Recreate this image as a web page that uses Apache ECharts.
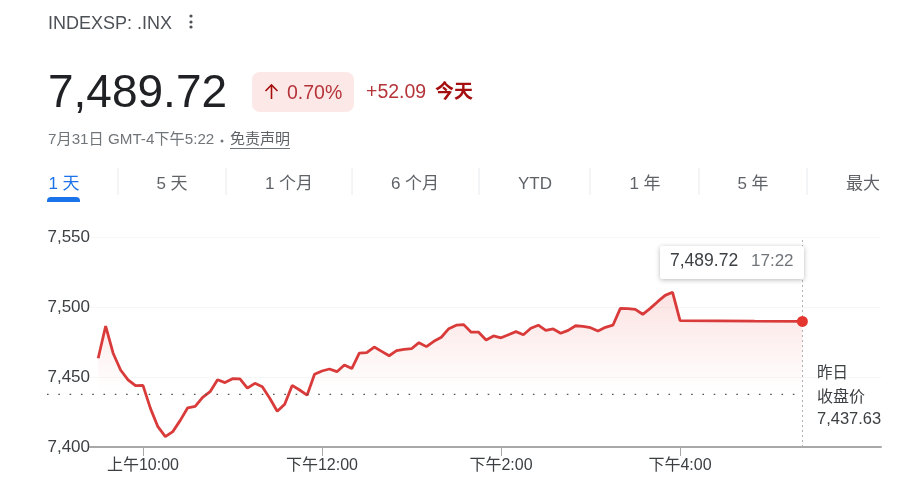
<!DOCTYPE html>
<html>
<head>
<meta charset="utf-8">
<style>
  html, body { margin: 0; padding: 0; background: #fff; }
  #chart { width: 900px; height: 500px; }
</style>
<script src="https://cdn.jsdelivr.net/npm/echarts@6/dist/echarts.min.js"></script>
</head>
<body>
<div id="chart"></div>
<script>
// minutes since midnight, 9:30 -> 16:00 in 5 min bars, then after hours
var times = [
  570,575,580,585,590,595,600,605,610,615,620,625,630,635,640,645,650,655,660,665,
  670,675,680,685,690,695,700,705,710,715,720,725,730,735,740,745,750,755,760,765,
  770,775,780,785,790,795,800,805,810,815,820,825,830,835,840,845,850,855,860,865,
  870,875,880,885,890,895,900,905,910,915,920,925,930,935,940,945,950,955,960,
  1010,1042
];
var prices = [
  7463.4,7486.4,7467.0,7455.0,7448.0,7443.8,7444.0,7427.6,7414.5,7407.4,
  7411.0,7419.0,7428.0,7429.0,7435.5,7439.5,7448.0,7446.0,7448.8,7448.6,
  7442.0,7445.5,7443.0,7434.8,7425.5,7430.5,7444.0,7440.7,7437.0,7452.0,
  7454.3,7455.7,7453.8,7458.6,7456.0,7467.0,7467.4,7471.4,7468.3,7465.2,
  7468.8,7469.8,7470.2,7474.5,7471.7,7475.5,7478.4,7484.5,7487.0,7487.4,
  7482.0,7482.0,7476.4,7479.3,7478.0,7480.2,7482.4,7480.2,7484.8,7487.0,
  7483.3,7484.3,7481.2,7483.3,7486.6,7486.2,7485.2,7482.9,7485.5,7487.0,
  7499.0,7498.8,7498.3,7494.8,7499.0,7503.8,7508.3,7510.5,7490.2,
  7489.9,7489.72
];
var prevClose = 7437.63;
var yTicks = [7400, 7450, 7500, 7550];
var xTicks = [600, 720, 840, 960];
var xTickLabels = ['上午10:00', '下午12:00', '下午2:00', '下午4:00'];
var tabLabels = ['1 天', '5 天', '1 个月', '6 个月', 'YTD', '1 年', '5 年', '最大'];
var tabCenters = [64, 172, 289, 415, 535, 645, 753, 863];
var tabSeps = [118, 226, 352, 479, 590, 699, 807];

var FONT = '"Liberation Sans","Noto Sans CJK SC",sans-serif';
var red = '#d93a3a';

function txt(s, x, y, size, fill, align, weight) {
  return {
    type: 'text', z: 10,
    style: {
      text: s, x: x, y: y, fill: fill,
      font: (weight || 'normal') + ' ' + size + 'px ' + FONT,
      textAlign: align || 'left', textVerticalAlign: 'middle'
    }
  };
}
function ln(x1, y1, x2, y2, color, width, dash) {
  return {
    type: 'line', z: 9,
    shape: { x1: x1, y1: y1, x2: x2, y2: y2 },
    style: { stroke: color, lineWidth: width, lineDash: dash || null }
  };
}
function dot(x, y, r, color) {
  return { type: 'circle', z: 10, shape: { cx: x, cy: y, r: r }, style: { fill: color } };
}

var chart = echarts.init(document.getElementById('chart'), null, { renderer: 'canvas' });
var lastT = times[times.length - 1];
var lastP = prices[prices.length - 1];

chart.setOption({
  animation: false,
  backgroundColor: '#fff',
  textStyle: { fontFamily: FONT },
  grid: { left: 90, right: 19, top: 237, bottom: 53 },
  xAxis: {
    type: 'value',
    min: 564.5,
    max: 1094.7,
    axisLine: { show: true, lineStyle: { color: '#a8a8a8', width: 2 } },
    axisTick: { show: true, customValues: xTicks, length: 9, lineStyle: { color: '#a8a8a8', width: 1 } },
    axisLabel: {
      customValues: xTicks,
      color: '#3c4043', fontSize: 16, margin: 11,
      formatter: function (v) { return xTickLabels[xTicks.indexOf(v)]; }
    },
    splitLine: { show: false }
  },
  yAxis: {
    type: 'value',
    min: yTicks[0],
    max: yTicks[yTicks.length - 1],
    interval: 50,
    axisLine: { show: false },
    axisTick: { show: false },
    axisLabel: {
      color: '#3c4043', fontSize: 17, margin: 0,
      formatter: function (v) { return echarts.format.addCommas(v); }
    },
    splitLine: { lineStyle: { color: '#f7f7f7', width: 1 } }
  },
  series: [{
    type: 'line',
    data: times.map(function (t, i) { return [t, prices[i]]; }),
    symbol: 'none',
    smooth: false,
    lineStyle: { color: red, width: 2.8 },
    areaStyle: {
      origin: prevClose,
      color: {
        type: 'linear', x: 0, y: 290, x2: 0, y2: 392, global: true,
        colorStops: [
          { offset: 0, color: 'rgba(235,90,85,0.25)' },
          { offset: 1, color: 'rgba(235,90,85,0)' }
        ]
      }
    },
    markLine: {
      silent: true,
      symbol: 'none',
      label: { show: false },
      lineStyle: { color: '#b0b0b0', type: [2, 3], width: 1 },
      data: [{ xAxis: lastT }]
    },
    markPoint: {
      silent: true,
      symbol: 'circle',
      symbolSize: 11,
      itemStyle: { color: '#e5352f' },
      label: { show: false },
      data: [{ coord: [lastT, lastP] }]
    }
  }]
});

var baseY = chart.convertToPixel({ yAxisIndex: 0 }, prevClose);
var endX = chart.convertToPixel({ xAxisIndex: 0 }, lastT);

var g = [
  txt('INDEXSP: .INX', 48, 24, 18, '#4d5156'),
  dot(191, 16, 1.6, '#4d5156'), dot(191, 22, 1.6, '#4d5156'), dot(191, 27, 1.6, '#4d5156'),
  txt('7,489.72', 48, 94, 46, '#202124'),
  { type: 'rect', z: 9, shape: { x: 252, y: 72, width: 102, height: 40, r: 8 }, style: { fill: '#fce8e6' } },
  // up arrow
  {
    type: 'polyline', z: 10,
    shape: { points: [[265.5, 91], [271.5, 85], [277.5, 91]] },
    style: { stroke: '#a50e0e', lineWidth: 1.6, fill: 'none' }
  },
  ln(271.5, 85.5, 271.5, 99, '#a50e0e', 1.6),
  txt('0.70%', 287, 93.5, 19.5, '#b5343a'),
  txt('+52.09', 366, 92.5, 19.5, '#b5343a'),
  txt('今天', 435, 93, 19, '#a50e0e', 'left', 'bold'),
  txt('7月31日 GMT-4下午5:22', 48, 140, 15.2, '#70757a'),
  dot(222, 141, 1.5, '#70757a'),
  txt('免责声明', 230, 140, 15, '#5f6368'),
  ln(230, 148.5, 290, 148.5, '#70757a', 1),
  { type: 'rect', z: 9, shape: { x: 47, y: 197, width: 33, height: 5, r: [4, 4, 0, 0] }, style: { fill: '#1a73e8' } },
  // tooltip box
  {
    type: 'rect', z: 11,
    shape: { x: 660, y: 246, width: 144, height: 33, r: 2 },
    style: { fill: '#fff', shadowBlur: 5, shadowColor: 'rgba(0,0,0,0.28)', shadowOffsetY: 1 }
  },
  // baseline
  ln(47, baseY, endX, baseY, '#555', 1.3, [1.6, 9.7]),
  txt('昨日', 817, 374, 15.5, '#3c4043'),
  txt('收盘价', 817, 398, 16, '#3c4043'),
  txt('7,437.63', 817, 419, 16.5, '#3c4043')
];
var tip1 = txt('7,489.72', 670, 261, 17.5, '#3c4043'); tip1.z = 12; g.push(tip1);
var tip2 = txt('17:22', 751, 261, 17, '#70757a'); tip2.z = 12; g.push(tip2);

tabLabels.forEach(function (s, i) {
  g.push(txt(s, tabCenters[i], 184, 17, i === 0 ? '#1a73e8' : '#5f6368', 'center'));
});
tabSeps.forEach(function (x) {
  g.push(ln(x, 168, x, 195, '#e8eaed', 1));
});

chart.setOption({ graphic: g });
window.addEventListener('resize', function () { chart.resize(); });
</script>
</body>
</html>
